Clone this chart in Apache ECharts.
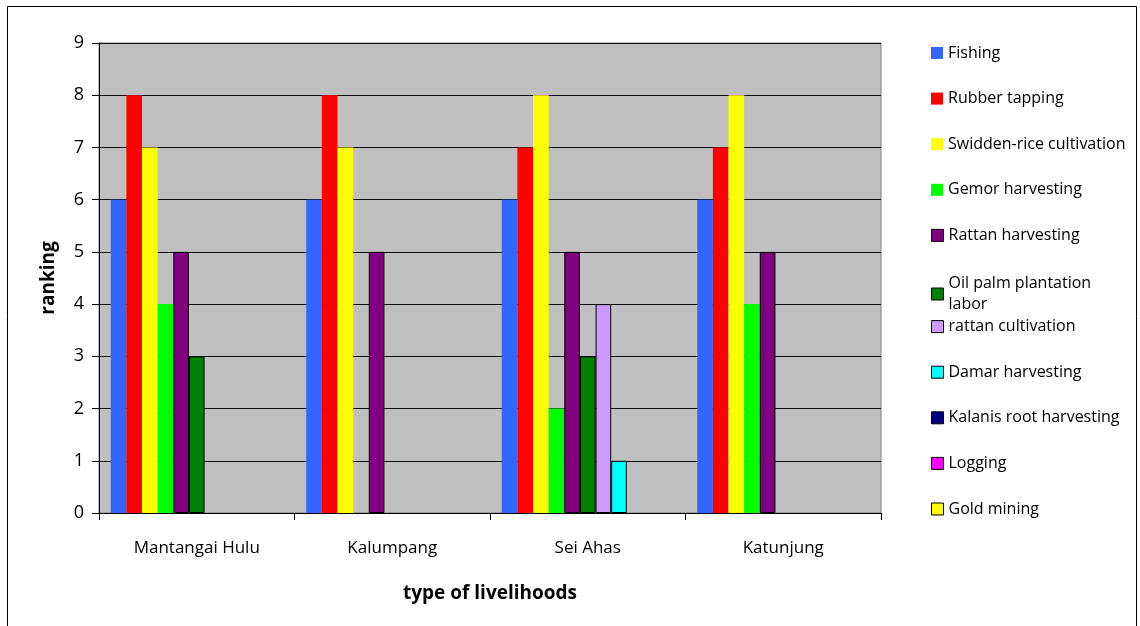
<!DOCTYPE html>
<html>
<head>
<meta charset="utf-8">
<title>Livelihood ranking by village</title>
<script src="https://cdn.jsdelivr.net/npm/echarts@6/dist/echarts.min.js"></script>
<style>
  html, body { margin: 0; padding: 0; background: #fff; }
  #chart { width: 1140px; height: 626px; }
</style>
</head>
<body>
<div id="chart"></div>
<script>
// Villages on the category axis
const villages = ['Mantangai Hulu', 'Kalumpang', 'Sei Ahas', 'Katunjung'];

// Livelihood ranking per village (null = not practised there)
const fishing        = [6, 6, 6, 6];
const rubberTapping  = [8, 8, 7, 7];
const swiddenRice    = [7, 7, 8, 8];
const gemor          = [4, null, 2, 4];
const rattanHarvest  = [5, 5, 5, 5];
const oilPalmLabor   = [3, null, 3, null];
const rattanCultiv   = [null, null, 4, null];
const damar          = [null, null, 1, null];
const kalanisRoot    = [null, null, null, null];
const logging        = [null, null, null, null];
const goldMining     = [null, null, null, null];

const yTicks = [0, 1, 2, 3, 4, 5, 6, 7, 8, 9];

const seriesDefs = [
  { name: 'Fishing',                  data: fishing,       color: '#3366FF', border: false },
  { name: 'Rubber tapping',           data: rubberTapping, color: '#FF0000', border: false },
  { name: 'Swidden-rice cultivation', data: swiddenRice,   color: '#FFFF00', border: false },
  { name: 'Gemor harvesting',         data: gemor,         color: '#00FF00', border: false },
  { name: 'Rattan harvesting',        data: rattanHarvest, color: '#800080', border: true },
  { name: 'Oil palm plantation labor',data: oilPalmLabor,  color: '#008000', border: true },
  { name: 'rattan cultivation',       data: rattanCultiv,  color: '#CC99FF', border: true },
  { name: 'Damar harvesting',         data: damar,         color: '#00FFFF', border: true },
  { name: 'Kalanis root harvesting',  data: kalanisRoot,   color: '#000080', border: true },
  { name: 'Logging',                  data: logging,       color: '#FF00FF', border: true },
  { name: 'Gold mining',              data: goldMining,    color: '#FFFF00', border: true }
];

const FONT = '"Open Sans", sans-serif';
const LEGEND_FS = 16;

// One legend block per entry so each row sits on an even 45.6px pitch
const legendTop0 = 45;
const legendStep = 45.6;
const legends = seriesDefs.map((s, i) => {
  const wrap = s.name === 'Oil palm plantation labor';
  return {
    data: [{
      name: s.name,
      itemStyle: s.border
        ? { color: s.color, borderColor: '#000', borderWidth: 1 }
        : { color: s.color, borderWidth: 0 }
    }],
    left: 931,
    top: legendTop0 + i * legendStep - (wrap ? 10.5 : 0),
    orient: 'vertical',
    itemWidth: 12,
    itemHeight: 12,
    itemGap: 0,
    padding: 0,
    icon: 'rect',
    selectedMode: false,
    formatter: wrap ? 'Oil palm plantation\nlabor' : '{name}',
    textStyle: wrap
      ? { fontFamily: FONT, fontSize: LEGEND_FS, color: '#000', lineHeight: 21, padding: [21, 0, 0, 0] }
      : { fontFamily: FONT, fontSize: LEGEND_FS, color: '#000' }
  };
});

const chart = echarts.init(document.getElementById('chart'), null, { renderer: 'canvas' });

chart.setOption({
  animation: false,
  backgroundColor: '#fff',
  textStyle: { fontFamily: FONT },
  grid: {
    left: 99, top: 43, right: 259, bottom: 113,
    show: true,
    backgroundColor: '#C0C0C0',
    borderColor: '#808080',
    borderWidth: 1
  },
  legend: legends,
  graphic: [{
    type: 'rect',
    shape: { x: 7.5, y: 6.5, width: 1129, height: 640 },
    style: { fill: 'none', stroke: '#000', lineWidth: 1 },
    silent: true,
    z: 100
  }],
  xAxis: {
    type: 'category',
    data: villages,
    name: 'type of livelihoods',
    nameLocation: 'middle',
    nameGap: 71,
    nameTextStyle: { fontFamily: FONT, fontSize: 19, fontWeight: 'bold', color: '#000' },
    axisLine: { lineStyle: { color: '#000', width: 1 } },
    axisTick: { show: true, alignWithLabel: false, length: 7, lineStyle: { color: '#000' } },
    axisLabel: { fontFamily: FONT, fontSize: 17, color: '#000', margin: 27 }
  },
  yAxis: {
    type: 'value',
    min: 0,
    max: 9,
    interval: 1,
    name: 'ranking',
    nameLocation: 'middle',
    nameGap: 41,
    nameTextStyle: { fontFamily: FONT, fontSize: 19, fontWeight: 'bold', color: '#000' },
    axisLine: { show: true, lineStyle: { color: '#000', width: 1 } },
    axisTick: { show: true, length: 7, lineStyle: { color: '#000' } },
    axisLabel: {
      fontFamily: FONT, fontSize: 18, color: '#000', margin: 15,
      formatter: v => (yTicks.includes(v) ? String(v) : '')
    },
    splitLine: { show: true, lineStyle: { color: '#111', width: 1 } }
  },
  series: seriesDefs.map(s => ({
    name: s.name,
    type: 'bar',
    data: s.data,
    barGap: '0%',
    barCategoryGap: '12%',
    itemStyle: s.border
      ? { color: s.color, borderColor: '#000', borderWidth: 1 }
      : { color: s.color, borderWidth: 0 }
  }))
});
</script>
</body>
</html>
